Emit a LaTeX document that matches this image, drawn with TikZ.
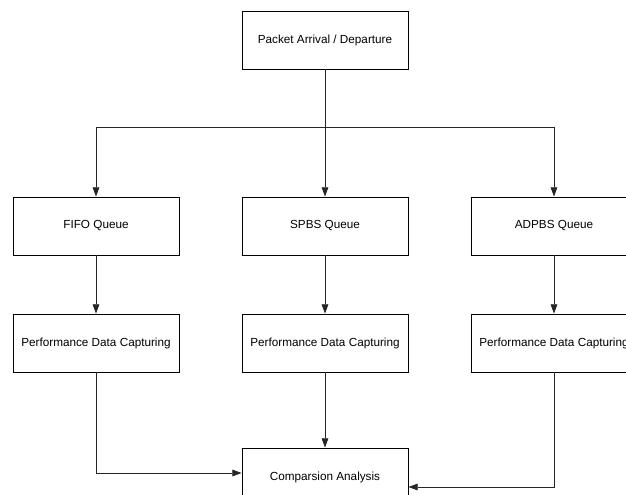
\documentclass[tikz,border=0pt]{standalone}
\usepackage{fontspec}
\setmainfont{Liberation Sans}
\usetikzlibrary{arrows.meta}
\tikzstyle{process} = [rectangle, minimum width=124.5pt, minimum height=43.5pt, inner sep=0pt, text centered, draw=black, line width=0.6pt, font=\fontsize{8.8}{10.5}\selectfont]
\tikzstyle{arrow} = [line width=0.6pt, draw=black!85, -{Triangle[length=7pt,width=5pt]}]
\tikzstyle{line} = [line width=0.6pt, draw=black!85]

\begin{document}
\begin{tikzpicture}[node distance=87.75pt]
      \useasboundingbox (0,0) rectangle (469.5pt,-371.25pt);
      \node (src) [process] at (243.75pt,-30pt) {Packet Arrival / Departure};

      \node (q2) [process, below of=src, yshift=-51.75pt] {SPBS Queue};
      \node (q1) [process, left of=q2, xshift=-84pt] {FIFO Queue};
      \node (q3) [process, right of=q2, xshift=84pt] {ADPBS Queue};

      \node (pdc1) [process, below of=q1] {Performance Data Capturing};
      \node (pdc2) [process, below of=q2] {Performance Data Capturing};
      \node (pdc3) [process, below of=q3] {Performance Data Capturing};

      \node (cmp) [process, below of=pdc2, yshift=-12.75pt] {Comparsion Analysis};
      \coordinate (split) at (243.75pt,-95.25pt);

      \draw [line] (src) -- (split);
      \draw [arrow] (split) -| (q1);
      \draw [arrow] (split) -- (q2);
      \draw [arrow] (split) -| (q3);

      \draw [arrow] (q1) -- (pdc1);
      \draw [arrow] (q2) -- (pdc2);
      \draw [arrow] (q3) -- (pdc3);

      \draw [arrow] (pdc1) |- ([yshift=3pt]cmp.west);
      \draw [arrow] (pdc2) -- (cmp);
      \draw [arrow] (pdc3) |- ([yshift=-7.5pt]cmp.east);
    \end{tikzpicture}
\end{document}
